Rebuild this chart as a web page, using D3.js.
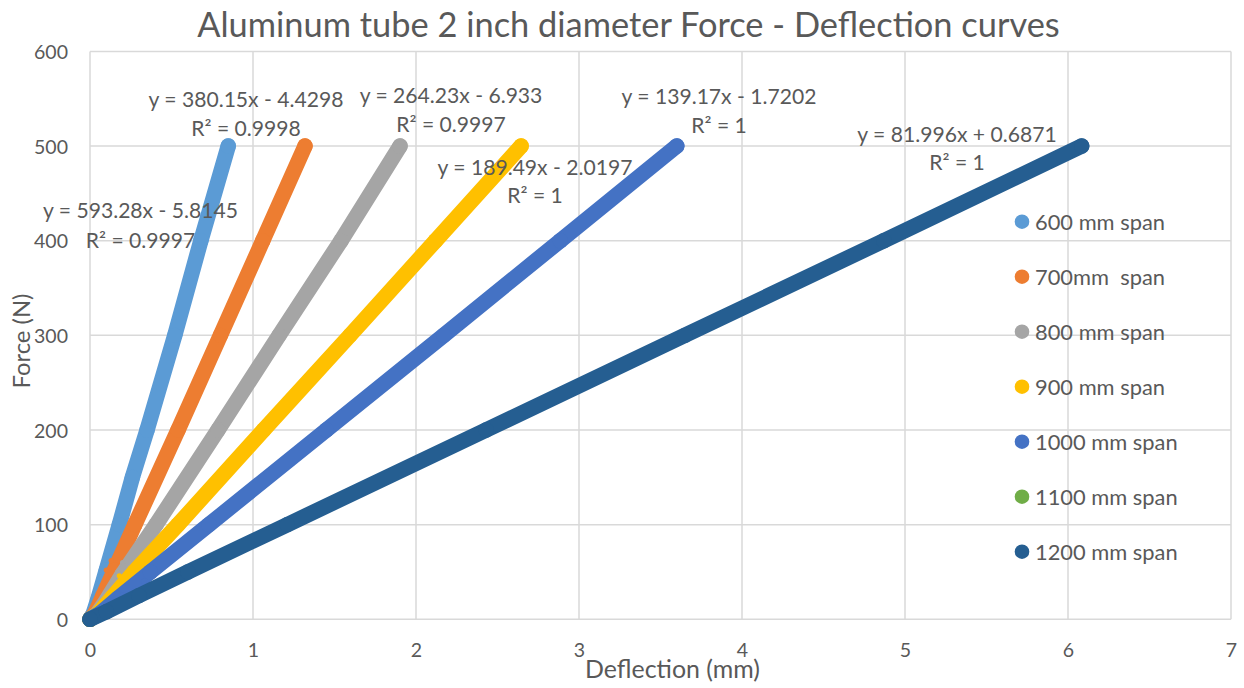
<!DOCTYPE html>
<html><head><meta charset="utf-8">
<script src="https://cdn.jsdelivr.net/npm/d3@7"></script>
<style>
body{margin:0;background:#fff}
text{font-family:Lato,"Open Sans",sans-serif;fill:#595959;white-space:pre}
</style>
</head><body>
<svg id="c" width="1244" height="688"></svg>
<script>
// ---------- data ----------
const seriesNames = ["600 mm span","700mm  span","800 mm span","900 mm span","1000 mm span","1100 mm span","1200 mm span"];
const seriesColors = ["#5B9BD5","#ED7D31","#A5A5A5","#FFC000","#4472C4","#70AD47","#255E91"];
const s600  = [[0,0],[0.02,6],[0.05,22],[0.1,52],[0.18,100],[0.26,150],[0.35,200],[0.52,300],[0.68,400],[0.848,500]];
const s700  = [[0,0],[0.03,6],[0.08,25],[0.15,52],[0.275,100],[0.54,200],[0.8,300],[1.06,400],[1.319,500]];
const s800  = [[0,0],[0.04,5],[0.1,20],[0.2,48],[0.405,100],[0.785,200],[1.16,300],[1.54,400],[1.902,500]];
const s900  = [[0,0],[0.05,6],[0.14,24],[0.27,50],[0.54,100],[1.065,200],[1.595,300],[2.12,400],[2.645,500]];
const s1000 = [[0,0],[0.06,6],[0.17,22],[0.37,50],[0.73,100],[1.45,200],[2.17,300],[2.885,400],[3.6,500]];
const s1100 = [[0,0]];
const s1200 = [[0,0],[0.1,8],[0.3,25],[0.6,50],[1.21,100],[2.43,200],[3.65,300],[4.87,400],[6.084,500]];
const d600  = [[0.04,30],[0.07,45],[0.02,15]];
const d700  = [[0.1,52],[0.09,38],[0.13,62],[0.06,20]];
const d800  = [[0.13,36],[0.17,50],[0.1,24],[0.2,60]];
const d900  = [[0.2,34],[0.18,46],[0.15,22],[0.24,44],[0.28,58]];
const d1000 = [[0.14,18],[0.2,26],[0.27,30],[0.17,11],[0.33,40]];
const d1100 = [];
const d1200 = [];
const trendEq = ["y = 593.28x - 5.8145","y = 380.15x - 4.4298","y = 264.23x - 6.933","y = 189.49x - 2.0197","y = 139.17x - 1.7202",null,"y = 81.996x + 0.6871"];
const trendR2 = ["R² = 0.9997","R² = 0.9998","R² = 0.9997","R² = 1","R² = 1",null,"R² = 1"];
const xTicks = [0,1,2,3,4,5,6,7];
const yTicks = [0,100,200,300,400,500,600];
const titleText = "Aluminum tube 2 inch diameter Force - Deflection curves";
const xTitle = "Deflection (mm)";
const yTitle = "Force (N)";

// ---------- layout ----------
const series = [s600,s700,s800,s900,s1000,s1100,s1200];
const dots = [d600,d700,d800,d900,d1000,d1100,d1200];
const labelPos = [[140.5,218,248],[246,107,136],[451,103,132],[535,175,203],[719,104,133],null,[957,142,170]];

const svg = d3.select("#c");
const x = d3.scaleLinear().domain([0,7]).range([90,1231]);
const y = d3.scaleLinear().domain([0,600]).range([619.3,51.4]);

function fit(sel, target){
  const fs = parseFloat(sel.attr("font-size"));
  const w = sel.node().getComputedTextLength();
  return fs*target/w;
}

// grid
const g = svg.append("g");
g.selectAll("line.h").data(yTicks).join("line")
  .attr("x1",x(0)).attr("x2",x(7)).attr("y1",d=>y(d)).attr("y2",d=>y(d))
  .attr("stroke","#D9D9D9").attr("stroke-width",1.5);
g.selectAll("line.v").data(xTicks).join("line")
  .attr("y1",y(0)).attr("y2",y(600)).attr("x1",d=>x(d)).attr("x2",d=>x(d))
  .attr("stroke","#D9D9D9").attr("stroke-width",1.5);

// axis tick labels using d3 axes
const probe = svg.append("text").attr("font-size",20).text("600");
const tickFs = fit(probe, 34);
probe.remove();

const yAxis = svg.append("g").attr("transform",`translate(${x(0)},0)`)
  .call(d3.axisLeft(y).tickValues(yTicks).tickFormat(d3.format("d")).tickSize(0).tickPadding(22));
yAxis.select(".domain").remove();
yAxis.attr("font-family",null).attr("font-size",null);
yAxis.selectAll("text").attr("font-size",tickFs).attr("fill","#595959").attr("dy","0.36em");

const xAxis = svg.append("g").attr("transform",`translate(0,${y(0)})`)
  .call(d3.axisBottom(x).tickValues(xTicks).tickFormat(d3.format("d")).tickSize(0).tickPadding(24));
xAxis.select(".domain").remove();
xAxis.attr("font-family",null).attr("font-size",null);
xAxis.selectAll("text").attr("font-size",tickFs).attr("fill","#595959").attr("dy","0.71em");

// series bands
const line = d3.line().x(d=>x(d[0])).y(d=>y(d[1]));
series.forEach((s,i)=>{
  const gg = svg.append("g");
  if (s.length>1){
    gg.append("path").attr("d",line(s)).attr("fill","none")
      .attr("stroke",seriesColors[i]).attr("stroke-width",15.5)
      .attr("stroke-linecap","round").attr("stroke-linejoin","round");
  }
  gg.selectAll("circle.p").data(s).join("circle")
    .attr("cx",d=>x(d[0])).attr("cy",d=>y(d[1])).attr("r",7.7).attr("fill",seriesColors[i]);
  gg.selectAll("circle.d").data(dots[i]).join("circle")
    .attr("cx",d=>x(d[0])).attr("cy",d=>y(d[1])).attr("r",2.6).attr("fill",seriesColors[i]);
});

// trendline labels
const p2 = svg.append("text").attr("font-size",20).text(trendEq[1]);
const annFs = fit(p2,195);
p2.remove();
trendEq.forEach((t,i)=>{
  if(!t) return;
  const p = labelPos[i];
  svg.append("text").attr("x",p[0]).attr("y",p[1]).attr("text-anchor","middle").attr("font-size",annFs).text(t);
  svg.append("text").attr("x",p[0]).attr("y",p[2]).attr("text-anchor","middle").attr("font-size",annFs).text(trendR2[i]);
});

// title
const tt = svg.append("text").attr("x",628.5).attr("y",36.5).attr("text-anchor","middle").attr("font-size",30).text(titleText);
tt.attr("font-size",fit(tt,863));

// axis titles
const xt = svg.append("text").attr("x",672.5).attr("y",678).attr("text-anchor","middle").attr("font-size",20).text(xTitle);
xt.attr("font-size",fit(xt,175));
const yt = svg.append("text").attr("transform","translate(29.5,341) rotate(-90)").attr("text-anchor","middle").attr("font-size",20).text(yTitle);
yt.attr("font-size",fit(yt,95));

// legend
const lp = svg.append("text").attr("font-size",20).text(seriesNames[0]);
const legFs = fit(lp,130);
lp.remove();
const leg = svg.append("g");
seriesNames.forEach((n,i)=>{
  const cy = 221.7 + i*55;
  leg.append("circle").attr("cx",1022).attr("cy",cy).attr("r",7.3).attr("fill",seriesColors[i]);
  leg.append("text").attr("x",1035).attr("y",cy+7.8).attr("font-size",legFs).attr("xml:space","preserve").text(n);
});
</script>
</body></html>
